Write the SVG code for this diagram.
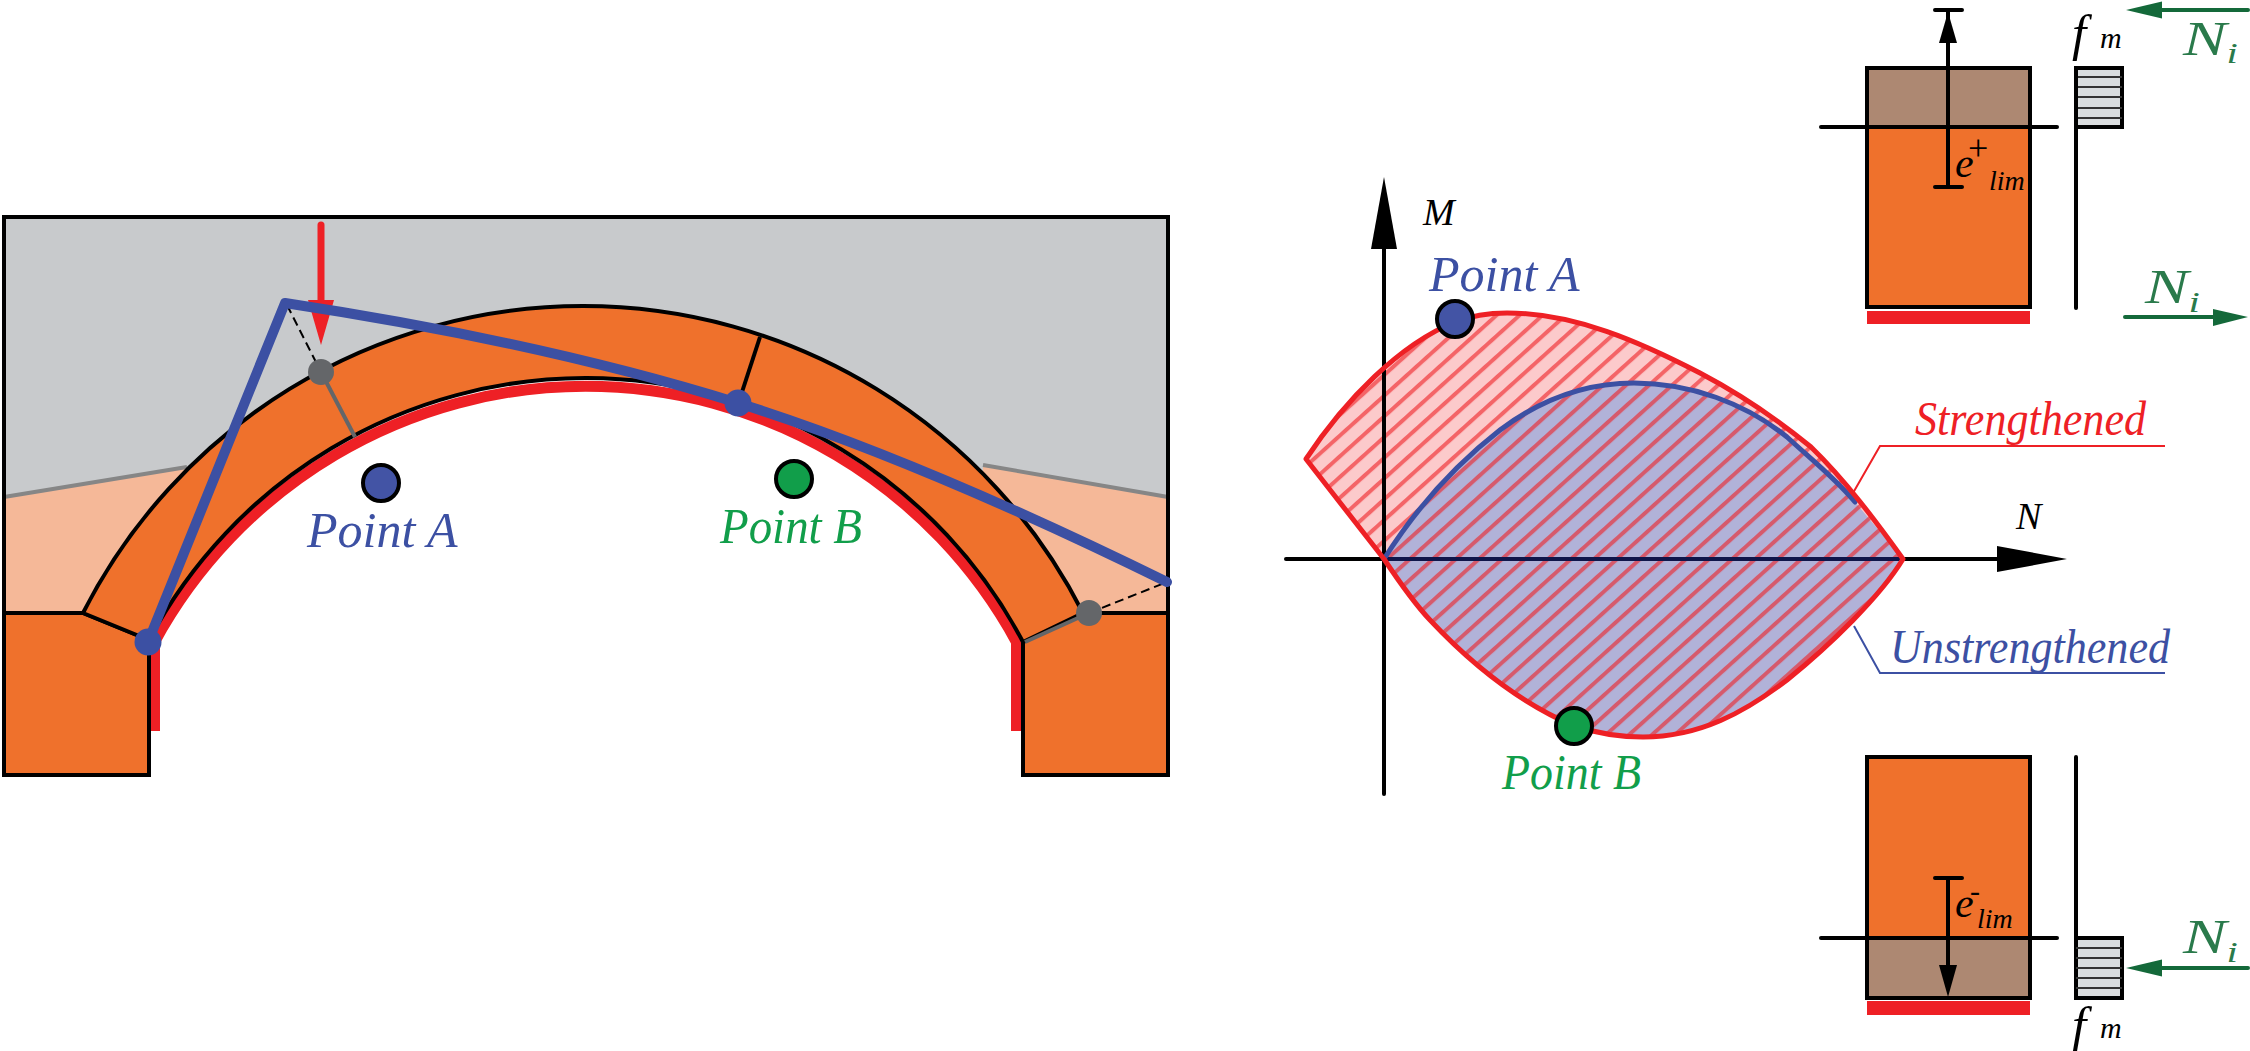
<svg xmlns="http://www.w3.org/2000/svg" width="2250" height="1051" viewBox="0 0 2250 1051">
<defs>
<pattern id="hatch" patternUnits="userSpaceOnUse" width="100" height="15.4" patternTransform="translate(1384 559) rotate(-42)">
<rect x="0" y="0" width="100" height="4" fill="#EE2025" fill-opacity="0.6"/>
</pattern>
<clipPath id="strong"><path d="M1306 459 C1345 400 1400 344 1455 322 C1473 315 1490 313 1507 313 C1575 313 1640 342 1700 373 C1740 394 1778 420 1811 447 C1845 480 1875 520 1903 559 C1880 597 1830 645 1787 680 C1745 712 1700 737 1643 737 C1618 737 1596 733 1574 726 C1525 705 1475 668 1430 620 C1413 602 1398 580 1384 559 Z"/></clipPath>
</defs>
<style>
.k{stroke:#000;stroke-width:4;fill:none;stroke-linejoin:miter}
.o{fill:#EF712C;stroke:#000;stroke-width:4;stroke-linejoin:miter}
.ax{stroke:#000;stroke-width:4;fill:none;stroke-linecap:round}
.lo{fill:#F5B898;stroke:none}
.bd{stroke:#868686;stroke-width:4;fill:none}
.gy{stroke:#646669;stroke-width:4;fill:none}
.ds{stroke:#000;stroke-width:2;stroke-dasharray:9 5;fill:none}
.blue{stroke:#3C50A3;fill:none;stroke-linejoin:round;stroke-linecap:round}
.gd{fill:#646669}
.bd2{fill:#3C50A3}
.pa{fill:#4354A5;stroke:#000;stroke-width:4}
.pb{fill:#119E4A;stroke:#000;stroke-width:4}
.t{font-family:"Liberation Serif",serif;font-style:italic}
.tb{fill:#3C50A3;font-size:50px}
.tg{fill:#119E4A;font-size:50px}
.tk{fill:#000}
.tn{fill:#2A7A4B;font-size:48px}
.tn tspan{font-size:30px}
.st{fill:#D9DCDE;stroke:#000;stroke-width:4}
.h{stroke:#333;stroke-width:2}
.ga{stroke:#14693A;stroke-width:4;fill:none;stroke-linecap:round}
.gh{fill:#14693A}
.brn{fill:#AD8872}
.or{fill:#EF712C}
.rd{fill:#EE2025}
</style>
<g id="arch">
<rect x="4" y="217" width="1164" height="396" fill="#C8CACC"/>
<path class="lo" d="M4 497 L190 467 L190 613 L4 613 Z"/>
<path class="lo" d="M983 465 L1168 497 L1168 613 L983 613 Z"/>
<path class="bd" d="M4 497 L187 467"/>
<path class="bd" d="M983 465 L1168 497"/>
<path d="M4 613 L4 217 L1168 217 L1168 613" class="k"/>
<path fill="#fff" d="M149 775 L149 640 A494.600 494.600 0 0 1 1023 642 L1023 775 Z"/>
<path d="M154.500 731 L154.500 642 A491 491 0 0 1 1016.500 642 L1016.500 731" fill="none" stroke="#EE2025" stroke-width="11"/>
<path class="o" d="M4 613 L83 613 L149 640 L149 775 L4 775 Z"/>
<path class="o" d="M1023 642 L1083 613 L1168 613 L1168 775 L1023 775 Z"/>
<path class="o" d="M83 613 A560.700 560.700 0 0 1 1083 613 L1023 642 A494.600 494.600 0 0 0 149 640 Z"/>
<path class="k" d="M760 337 L742 392"/>
<path class="gy" d="M321 372 L355 437"/>
<path class="gy" d="M1089 613 L1025 642"/>
<path d="M321 225 L321 300" stroke="#EE2025" stroke-width="7" stroke-linecap="round" fill="none"/>
<path d="M308 300 L334 300 L321 345 Z" class="rd"/>
<path class="ds" d="M287 305 L321 372"/>
<path class="ds" d="M1089 613 L1167 582"/>
<circle class="gd" cx="321" cy="372" r="13"/>
<circle class="gd" cx="1089" cy="613" r="13"/>
<path class="blue" stroke-width="10" d="M148 642 L285 303 C450 328 600 360 738 403 C850 438 1000 500 1167 582"/>
<circle class="bd2" cx="148" cy="642" r="13.500"/>
<circle class="bd2" cx="738" cy="403" r="13.500"/>
</g>
<g id="arch-point-a">
<circle class="pa" cx="381" cy="483" r="18"/>
<text class="t tb" x="307" y="547">Point A</text>
</g>
<g id="arch-point-b">
<circle class="pb" cx="794" cy="479" r="18"/>
<text class="t tg" x="720" y="543" textLength="142" lengthAdjust="spacingAndGlyphs">Point B</text>
</g>
<g id="chart">
<path fill="#FCCACB" d="M1306 459 C1345 400 1400 344 1455 322 C1473 315 1490 313 1507 313 C1575 313 1640 342 1700 373 C1740 394 1778 420 1811 447 C1845 480 1875 520 1903 559 C1880 597 1830 645 1787 680 C1745 712 1700 737 1643 737 C1618 737 1596 733 1574 726 C1525 705 1475 668 1430 620 C1413 602 1398 580 1384 559 Z"/>
<path fill="#B1B2D8" d="M1384 559 C1415 510 1455 465 1500 430 C1540 400 1585 383 1634 383 C1690 383 1745 403 1787 437 C1812 460 1835 478 1855 502 L1903 559 C1880 597 1830 645 1787 680 C1745 712 1700 737 1643 737 C1618 737 1596 733 1574 726 C1525 705 1475 668 1430 620 C1413 602 1398 580 1384 559 Z"/>
<rect x="1290" y="300" width="630" height="450" fill="url(#hatch)" clip-path="url(#strong)"/>
<path class="ax" d="M1384 249 L1384 794"/>
<path d="M1384 177 L1397 249 L1371 249 Z"/>
<path class="ax" d="M1286 559 L1997 559"/>
<path d="M2067 559 L1997 546 L1997 572 Z"/>
<path d="M1384 559 L1903 559" stroke="#10154A" stroke-width="4" fill="none"/>
<path class="blue" stroke-width="5" d="M1384 559 C1415 510 1455 465 1500 430 C1540 400 1585 383 1634 383 C1690 383 1745 403 1787 437 C1812 460 1835 478 1855 502"/>
<path fill="none" stroke="#EE2025" stroke-width="5" stroke-linejoin="round" d="M1306 459 C1345 400 1400 344 1455 322 C1473 315 1490 313 1507 313 C1575 313 1640 342 1700 373 C1740 394 1778 420 1811 447 C1845 480 1875 520 1903 559 C1880 597 1830 645 1787 680 C1745 712 1700 737 1643 737 C1618 737 1596 733 1574 726 C1525 705 1475 668 1430 620 C1413 602 1398 580 1384 559 Z"/>
<text class="t tk" x="1423" y="225" font-size="38">M</text>
<text class="t tk" x="2016" y="529" font-size="38">N</text>
</g>
<g id="chart-point-a">
<circle class="pa" cx="1455" cy="319" r="18"/>
<text class="t tb" x="1429" y="291">Point A</text>
</g>
<g id="chart-point-b">
<circle class="pb" cx="1574" cy="726" r="18"/>
<text class="t tg" x="1502" y="789" textLength="139" lengthAdjust="spacingAndGlyphs">Point B</text>
</g>
<g id="label-strengthened">
<path d="M1853 493 L1880 446 L2165 446" fill="none" stroke="#EE2025" stroke-width="2"/>
<text class="t" x="1915" y="435" font-size="48" fill="#EE2025" textLength="231" lengthAdjust="spacingAndGlyphs">Strengthened</text>
</g>
<g id="label-unstrengthened">
<path d="M1854 626 L1880 673 L2165 673" fill="none" stroke="#3C50A3" stroke-width="2"/>
<text class="t" x="1890" y="663" font-size="48" fill="#3C50A3" textLength="280" lengthAdjust="spacingAndGlyphs">Unstrengthened</text>
</g>
<g id="section-top">
<rect class="rd" x="1867" y="311" width="163" height="13"/>
<rect class="brn" x="1867" y="68" width="163" height="59"/>
<rect class="or" x="1867" y="127" width="163" height="180"/>
<rect class="k" x="1867" y="68" width="163" height="239"/>
<path class="ax" d="M1821 127 L2057 127"/>
<path class="ax" d="M1948 187 L1948 30 M1935 10 L1962 10 M1935 187 L1962 187 M1948 30 L1948 10"/>
<path d="M1948 12 L1957 43 L1939 43 Z"/>
<text class="t tk" x="1955" y="177" font-size="42">e<tspan x="1968" y="160" font-size="36" font-style="normal">+</tspan><tspan x="1989" y="190" font-size="28">lim</tspan></text>
<rect class="st" x="2076" y="68" width="46" height="59"/>
<path class="h" d="M2076 77 L2122 77 M2076 87 L2122 87 M2076 97 L2122 97 M2076 108 L2122 108 M2076 118 L2122 118"/>
<path class="ax" d="M2076 68 L2076 308"/>
<text class="t tk" x="2072" y="50" font-size="51">f<tspan x="2100" y="48" font-size="30">m</tspan></text>
<path class="ga" d="M2248 10 L2160 10"/>
<path class="gh" d="M2126 10 L2162 1.500 L2162 18.500 Z"/>
<text class="t tn" transform="translate(2183 55) scale(1.36 1)">N<tspan dy="8">i</tspan></text>
<path class="ga" d="M2125 317 L2215 317"/>
<path class="gh" d="M2248 317 L2213 309 L2213 326 Z"/>
<text class="t tn" transform="translate(2145 303) scale(1.36 1)">N<tspan dy="9">i</tspan></text>
</g>
<g id="section-bottom">
<rect class="rd" x="1867" y="1001" width="163" height="14"/>
<rect class="or" x="1867" y="757" width="163" height="181"/>
<rect class="brn" x="1867" y="938" width="163" height="60"/>
<rect class="k" x="1867" y="757" width="163" height="241"/>
<path class="ax" d="M1821 938 L2057 938"/>
<path class="ax" d="M1948 878 L1948 970 M1935 878 L1962 878"/>
<path d="M1948 997 L1957 965 L1939 965 Z"/>
<text class="t tk" x="1955" y="917" font-size="42">e<tspan x="1970" y="901" font-size="30" font-style="normal">-</tspan><tspan x="1977" y="928" font-size="28">lim</tspan></text>
<rect class="st" x="2076" y="938" width="46" height="60"/>
<path class="h" d="M2076 948 L2122 948 M2076 958 L2122 958 M2076 968 L2122 968 M2076 978 L2122 978 M2076 988 L2122 988"/>
<path class="ax" d="M2076 757 L2076 938"/>
<text class="t tk" x="2072" y="1042" font-size="51">f<tspan x="2100" y="1038" font-size="30">m</tspan></text>
<path class="ga" d="M2248 968 L2160 968"/>
<path class="gh" d="M2126 968 L2162 959.500 L2162 976.500 Z"/>
<text class="t tn" transform="translate(2183 953) scale(1.36 1)">N<tspan dy="9">i</tspan></text>
</g>
</svg>
